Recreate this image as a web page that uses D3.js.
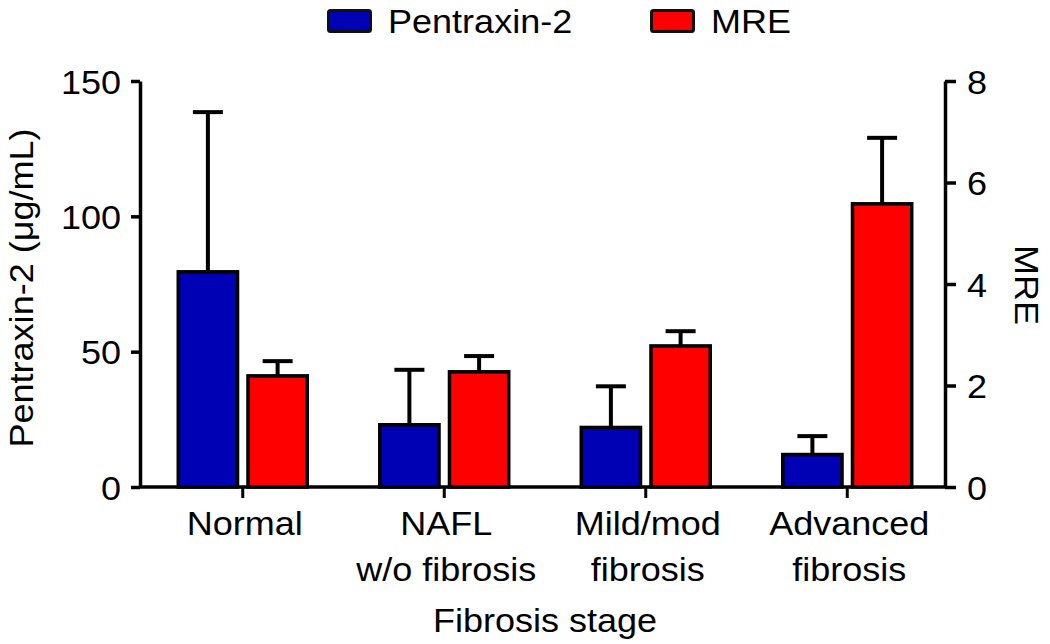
<!DOCTYPE html>
<html>
<head>
<meta charset="utf-8">
<script src="https://cdn.jsdelivr.net/npm/d3@7"></script>
<style>
  html, body { margin: 0; padding: 0; background: #fff; }
  svg { display: block; font-family: "Liberation Sans", Arial, Helvetica, sans-serif; }
</style>
</head>
<body>
<svg id="chart" width="1050" height="644"></svg>
<script>
// ---- Data ----
const categories = [["Normal"], ["NAFL", "w/o fibrosis"], ["Mild/mod", "fibrosis"], ["Advanced", "fibrosis"]];
const seriesNames = ["Pentraxin-2", "MRE"];
const pentraxinMean = [79.5, 23.0, 22.0, 12.0];
const pentraxinSD = [59.0, 20.3, 15.2, 6.8];
const mreMean = [2.19, 2.27, 2.78, 5.58];
const mreSD = [0.29, 0.31, 0.29, 1.30];
const leftTicks = [0, 50, 100, 150];
const rightTicks = [0, 2, 4, 6, 8];

// ---- Layout ----
const svg = d3.select("#chart");
const FS = 34, SX = 1.06;
const axL = 140, axR = 945, yTop = 81, yBase = 487;
const colors = { "Pentraxin-2": "#0000b4", "MRE": "#ff0000" };

const x0 = d3.scaleBand().domain(d3.range(categories.length)).range([142, 948]).paddingInner(0.36).paddingOuter(0.18);
const x1 = d3.scaleBand().domain(seriesNames).range([0, x0.bandwidth()]).paddingInner(0.15);
const yL = d3.scaleLinear().domain([0, 150]).range([yBase, yTop]);
const yR = d3.scaleLinear().domain([0, 8]).range([yBase, yTop]);

const rows = categories.map((c, i) => [
  { s: "Pentraxin-2", i, v: pentraxinMean[i], e: pentraxinSD[i], y: yL },
  { s: "MRE", i, v: mreMean[i], e: mreSD[i], y: yR }
]).flat();

function stext(sel, x, y, rot) {
  return sel.attr("transform", `translate(${x},${y})` + (rot ? ` rotate(${rot})` : "") + ` scale(${SX},1)`)
    .attr("font-size", FS).attr("fill", "#000");
}

// bars
const g = svg.append("g");
g.selectAll("rect.bar").data(rows).join("rect")
  .attr("class", "bar")
  .attr("x", d => x0(d.i) + x1(d.s))
  .attr("width", x1.bandwidth())
  .attr("y", d => d.y(d.v))
  .attr("height", d => yBase - d.y(d.v))
  .attr("fill", d => colors[d.s])
  .attr("stroke", "#000").attr("stroke-width", 3.5);

// error bars
const eb = g.selectAll("g.err").data(rows).join("g").attr("class", "err");
eb.append("line")
  .attr("x1", d => x0(d.i) + x1(d.s) + x1.bandwidth() / 2)
  .attr("x2", d => x0(d.i) + x1(d.s) + x1.bandwidth() / 2)
  .attr("y1", d => d.y(d.v))
  .attr("y2", d => d.y(d.v + d.e))
  .attr("stroke", "#000").attr("stroke-width", 4);
eb.append("line")
  .attr("x1", d => x0(d.i) + x1(d.s) + x1.bandwidth() / 2 - 15)
  .attr("x2", d => x0(d.i) + x1(d.s) + x1.bandwidth() / 2 + 15)
  .attr("y1", d => d.y(d.v + d.e))
  .attr("y2", d => d.y(d.v + d.e))
  .attr("stroke", "#000").attr("stroke-width", 4);

// left axis
const la = svg.append("g").attr("transform", `translate(${axL},0)`)
  .call(d3.axisLeft(yL).tickValues(leftTicks).tickSize(9).tickSizeOuter(0).tickFormat(d3.format("d")));
la.select(".domain").attr("stroke", "#000").attr("stroke-width", 3.5);
la.selectAll(".tick line").attr("stroke", "#000").attr("stroke-width", 3.5);
la.selectAll(".tick text").attr("font-size", FS).attr("fill", "#000").attr("font-family", null)
  .attr("x", -19 / SX).attr("dy", "0.36em").attr("transform", `scale(${SX},1)`);

// right axis
const ra = svg.append("g").attr("transform", `translate(${axR},0)`)
  .call(d3.axisRight(yR).tickValues(rightTicks).tickSize(11).tickSizeOuter(0).tickFormat(d3.format("d")));
ra.select(".domain").attr("stroke", "#000").attr("stroke-width", 3.5);
ra.selectAll(".tick line").attr("stroke", "#000").attr("stroke-width", 3.5);
ra.selectAll(".tick text").attr("font-size", FS).attr("fill", "#000").attr("font-family", null)
  .attr("x", 22 / SX).attr("dy", "0.36em").attr("transform", `scale(${SX},1)`);

// bottom axis
const xAxisScale = d3.scalePoint().domain(d3.range(categories.length)).range([x0(0) + x0.bandwidth() / 2, x0(3) + x0.bandwidth() / 2]);
const ba = svg.append("g").attr("transform", `translate(0,${yBase})`);
ba.append("line").attr("x1", axL).attr("x2", axR).attr("y1", 0).attr("y2", 0)
  .attr("stroke", "#000").attr("stroke-width", 3.5);
ba.selectAll("line.tk").data(d3.range(categories.length)).join("line").attr("class", "tk")
  .attr("x1", d => xAxisScale(d)).attr("x2", d => xAxisScale(d))
  .attr("y1", 0).attr("y2", 11).attr("stroke", "#000").attr("stroke-width", 3);

// category labels
categories.forEach((lines, i) => {
  lines.forEach((t, k) => {
    stext(svg.append("text"), xAxisScale(i) + 2, 535 + k * 46).attr("text-anchor", "middle").text(t);
  });
});

// axis titles
stext(svg.append("text"), 545, 632).attr("text-anchor", "middle").text("Fibrosis stage");
stext(svg.append("text"), 33, 288, -90).attr("text-anchor", "middle").text("Pentraxin-2 (\u03bcg/mL)");
stext(svg.append("text"), 1015, 285, 90).attr("text-anchor", "middle").text("MRE");

// legend
const legendX = [327, 650];
seriesNames.forEach((s, i) => {
  svg.append("rect").attr("x", legendX[i] + 1.5).attr("y", 10.5).attr("width", 42).attr("height", 21)
    .attr("rx", 2).attr("fill", colors[s]).attr("stroke", "#111").attr("stroke-width", 3);
  stext(svg.append("text"), legendX[i] + 61, 33).text(s);
});
</script>
</body>
</html>
